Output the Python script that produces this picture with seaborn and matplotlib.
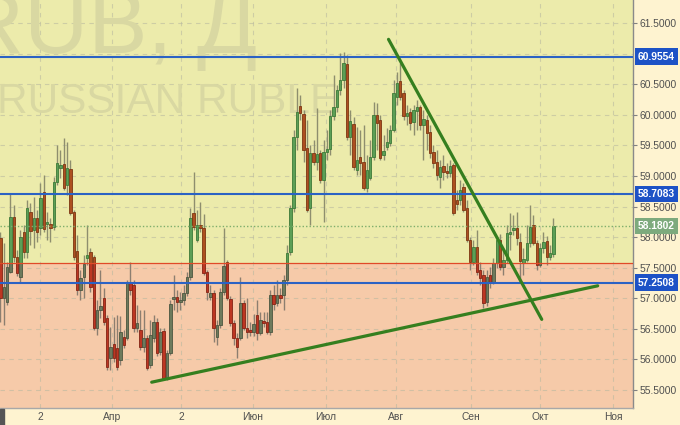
import numpy as np
import pandas as pd
import matplotlib
matplotlib.use("Agg")
import matplotlib.pyplot as plt
from matplotlib.patches import Rectangle
import seaborn as sns

# -----------------------------------------
# Data (USDRUB daily candles)
# -----------------------------------------
opens = [
    57.98, 57.00, 56.93, 57.43, 58.33, 57.67, 57.34, 58.08, 57.75, 58.41,
    58.11, 58.31, 58.15, 58.74, 58.21, 58.21, 58.16, 58.90, 59.13, 59.20,
    58.85, 59.11, 58.41, 57.77, 57.13, 57.34, 57.66, 57.75, 57.67, 56.51,
    56.80, 57.00, 56.67, 56.02, 56.25, 56.18, 55.98, 56.36, 56.34, 57.25,
    57.21, 56.51, 56.48, 56.20, 56.34, 55.90, 56.34, 56.61, 56.11, 56.46,
    55.69, 56.10, 56.98, 57.02, 56.93, 56.97, 57.08, 57.34, 58.39, 57.95,
    58.20, 58.15, 57.43, 57.02, 57.08, 56.36, 56.56, 57.10, 57.59, 56.98,
    56.59, 56.34, 56.34, 56.92, 56.51, 56.48, 56.44, 56.72, 56.43, 56.62,
    56.61, 56.44, 57.05, 56.92, 57.05, 57.05, 57.30, 57.75, 58.48, 59.64,
    60.15, 60.02, 59.46, 58.48, 59.38, 59.23, 59.38, 58.93, 59.39, 59.44,
    59.98, 60.13, 60.41, 60.57, 60.84, 59.64, 59.85, 59.10, 59.31, 59.23,
    58.80, 58.97, 59.31, 60.00, 59.92, 59.34, 59.48, 59.54, 59.75, 60.29,
    60.56, 60.36, 59.98, 60.05, 59.89, 60.07, 60.13, 59.84, 59.92, 59.72,
    59.39, 59.23, 58.98, 59.16, 59.08, 59.05, 59.18, 58.61, 58.61, 58.82,
    58.48, 57.95, 57.59, 57.84, 57.46, 57.38, 56.93, 57.38, 57.26, 57.57,
    57.95, 57.51, 57.62, 58.05, 58.11, 58.15, 57.92, 57.57, 57.62, 57.90,
    58.20, 57.90, 57.54, 57.82, 57.93, 57.67, 57.72,
]
highs = [
    58.08, 57.90, 57.59, 58.72, 58.52, 57.79, 58.11, 58.20, 58.61, 58.56,
    58.66, 58.44, 58.89, 59.02, 58.41, 58.31, 58.98, 59.51, 59.43, 59.62,
    59.56, 59.26, 58.44, 58.03, 57.46, 57.70, 58.20, 57.82, 57.70, 56.97,
    57.46, 57.16, 56.72, 56.52, 56.69, 56.72, 56.70, 56.48, 57.30, 57.59,
    57.30, 56.89, 56.80, 56.80, 56.39, 56.64, 56.72, 56.67, 56.51, 56.51,
    56.15, 56.97, 57.38, 57.13, 57.10, 57.21, 57.43, 58.48, 59.07, 58.44,
    58.57, 58.38, 57.46, 57.21, 57.13, 56.64, 57.16, 58.15, 57.62, 57.03,
    56.64, 56.43, 57.34, 56.97, 57.00, 56.61, 56.74, 56.97, 56.77, 56.77,
    56.77, 57.13, 57.21, 57.30, 57.16, 57.38, 57.87, 58.52, 59.75, 60.44,
    60.33, 60.08, 59.92, 59.51, 59.59, 60.11, 59.43, 59.59, 59.75, 60.08,
    60.66, 60.49, 61.02, 61.03, 60.98, 60.08, 59.97, 59.80, 59.75, 59.84,
    59.34, 59.59, 60.21, 60.20, 60.00, 59.67, 59.79, 59.84, 60.57, 60.70,
    60.85, 60.41, 60.16, 60.11, 60.16, 60.25, 60.16, 60.08, 60.00, 59.84,
    59.51, 59.43, 59.26, 59.34, 59.21, 59.26, 59.21, 58.77, 58.93, 58.89,
    58.61, 58.00, 57.95, 58.11, 57.59, 57.46, 57.46, 57.51, 57.66, 57.98,
    58.05, 57.79, 58.20, 58.39, 58.36, 58.41, 58.07, 57.82, 58.20, 58.52,
    58.36, 57.95, 57.90, 58.08, 58.02, 57.87, 58.31,
]
lows = [
    56.61, 56.56, 56.89, 57.41, 57.59, 57.36, 57.26, 57.66, 57.66, 57.87,
    57.82, 57.92, 58.03, 58.08, 57.95, 57.92, 58.11, 58.85, 58.97, 58.77,
    58.69, 58.36, 57.62, 57.05, 56.97, 57.00, 57.54, 57.10, 56.48, 56.39,
    56.67, 56.56, 55.82, 55.82, 55.95, 55.82, 55.90, 56.18, 56.31, 57.05,
    56.44, 56.44, 56.15, 56.11, 55.82, 55.85, 56.28, 56.05, 56.07, 55.66,
    55.66, 56.07, 56.80, 56.77, 56.80, 56.89, 57.03, 57.30, 58.11, 57.92,
    58.08, 57.38, 56.97, 56.97, 56.28, 56.23, 56.51, 57.05, 56.97, 56.54,
    56.23, 56.02, 56.31, 56.48, 56.34, 56.38, 56.38, 56.31, 56.39, 56.52,
    56.41, 56.39, 56.80, 56.87, 56.92, 56.80, 57.21, 57.70, 58.41, 59.43,
    59.92, 59.23, 58.41, 58.20, 59.18, 59.10, 58.89, 58.25, 59.26, 59.34,
    59.92, 60.05, 60.33, 60.44, 59.59, 59.34, 59.10, 59.02, 59.02, 58.77,
    58.74, 58.93, 59.26, 59.43, 59.26, 59.26, 59.43, 59.49, 59.72, 60.16,
    60.25, 59.92, 59.84, 59.75, 59.67, 59.75, 59.75, 59.26, 59.43, 59.30,
    59.13, 58.93, 58.80, 58.93, 58.97, 58.98, 58.36, 58.44, 58.52, 58.41,
    57.92, 57.46, 57.54, 57.38, 57.21, 56.84, 56.87, 57.16, 57.23, 57.49,
    57.46, 57.38, 57.57, 57.79, 58.03, 57.87, 57.26, 57.38, 57.59, 57.84,
    57.87, 57.46, 57.51, 57.74, 57.54, 57.62, 57.67,
]
closes = [
    57.00, 57.18, 57.51, 58.33, 57.67, 57.41, 58.00, 57.75, 58.48, 58.10,
    58.31, 58.08, 58.64, 58.13, 58.25, 58.15, 58.90, 59.21, 59.18, 58.80,
    59.13, 58.39, 57.67, 57.13, 57.33, 57.56, 57.70, 57.18, 56.51, 56.80,
    56.87, 56.61, 55.87, 56.20, 56.02, 55.87, 56.44, 56.23, 57.25, 57.13,
    56.51, 56.59, 56.20, 56.34, 55.85, 56.39, 56.61, 56.10, 56.44, 55.69,
    56.10, 56.90, 57.02, 56.93, 56.97, 57.08, 57.34, 58.31, 58.16, 58.20,
    58.15, 57.41, 57.10, 57.08, 56.51, 56.56, 57.10, 57.52, 57.00, 56.59,
    56.34, 56.20, 56.92, 56.51, 56.44, 56.44, 56.57, 56.43, 56.64, 56.59,
    56.44, 57.05, 56.90, 57.05, 57.00, 57.30, 57.74, 58.48, 59.64, 60.05,
    60.03, 59.43, 58.44, 59.38, 59.23, 59.36, 58.93, 59.39, 59.44, 59.98,
    60.13, 60.41, 60.57, 60.85, 59.64, 59.90, 59.15, 59.26, 59.21, 58.80,
    59.10, 59.31, 60.00, 59.87, 59.30, 59.41, 59.56, 59.75, 60.36, 60.52,
    60.29, 59.98, 60.03, 59.87, 60.08, 60.13, 59.84, 59.93, 59.70, 59.38,
    59.21, 59.02, 59.15, 59.07, 59.05, 59.16, 58.39, 58.54, 58.77, 58.44,
    57.95, 57.59, 57.84, 57.43, 57.33, 56.92, 57.34, 57.25, 57.57, 57.95,
    57.51, 57.62, 58.07, 58.08, 58.15, 57.98, 57.61, 57.64, 57.90, 58.16,
    57.90, 57.54, 57.82, 57.92, 57.67, 57.74, 58.18,
]

# month labels on the time axis
month_labels = ["2", "Апр", "2", "Июн", "Июл", "Авг", "Сен", "Окт", "Ноя"]
month_pos = [11.9, 33.5, 54.2, 75.8, 97.7, 118.8, 141.3, 162.0, 183.9]

# horizontal levels
blue_levels = [60.9554, 58.7083, 57.2508]
zone_level = 57.58
last_price = 58.1802

# hand drawn trend lines (bar index, price)
trend_down_x = [116.5, 162.5]
trend_down_y = [61.24, 56.65]
trend_up_x = [45.4, 179.3]
trend_up_y = [55.62, 57.20]

df = pd.DataFrame({"open": opens, "high": highs, "low": lows, "close": closes})

# -----------------------------------------
# Style
# -----------------------------------------
sns.set_theme(style="white")
plt.rcParams["font.family"] = ["Liberation Sans", "DejaVu Sans"]

YMIN, YMAX = 55.197, 61.885
XMIN, XMAX = -0.15, 189.9

fig = plt.figure(figsize=(6.8, 4.25), dpi=100, facecolor="#fef3d0")
ax = fig.add_axes([0, 17 / 425, 633 / 680, 408 / 425])
ax.set_xlim(XMIN, XMAX)
ax.set_ylim(YMIN, YMAX)

# background zones
ax.axhspan(zone_level, YMAX, color="#ecebab", zorder=0, lw=0)
ax.axhspan(YMIN, zone_level, color="#f6caa9", zorder=0, lw=0)

# grid
for yv in np.arange(55.5, 61.6, 0.5):
    ax.axhline(yv, color="#b9b9a0", lw=0.8, ls=(0, (4, 4)), alpha=0.6, zorder=1)
for xv in month_pos:
    ax.axvline(xv, color="#b9b9a0", lw=0.8, ls=(0, (4, 4)), alpha=0.6, zorder=1)

# watermark (clipped by the plot edges, as in the terminal)
ax.text(257 / 633, 1 - 53 / 408, "RUB, Д", transform=ax.transAxes, ha="right",
        va="baseline", fontsize=64, color="#d9d8a2", zorder=1.5, clip_on=True)
ax.text(338 / 633, 1 - 113 / 408, "RUSSIAN RUBLE", transform=ax.transAxes,
        ha="right", va="baseline", fontsize=30.5, color="#d9d8a2", zorder=1.5,
        clip_on=True)


# -----------------------------------------
# Candles (colours shift with the background zone)
# -----------------------------------------
def draw_candles(clip, up_col, up_edge, dn_col, dn_edge, wick_col):
    rising = df["close"] >= df["open"]
    body_lo = np.minimum(df["open"], df["close"])
    body_h = np.maximum((df["close"] - df["open"]).abs(), 0.02)
    wicks = ax.vlines(df.index, df["low"], df["high"], color=wick_col,
                      lw=1.0, zorder=3)
    wicks.set_clip_path(clip)
    bars = ax.bar(df.index, body_h, bottom=body_lo, width=0.74,
                  color=np.where(rising, up_col, dn_col),
                  edgecolor=np.where(rising, up_edge, dn_edge),
                  linewidth=0.6, zorder=4)
    for p in bars:
        p.set_clip_path(clip)


upper_clip = Rectangle((XMIN, zone_level), XMAX - XMIN, YMAX - zone_level,
                       transform=ax.transData)
lower_clip = Rectangle((XMIN, YMIN), XMAX - XMIN, zone_level - YMIN,
                       transform=ax.transData)
draw_candles(upper_clip, "#5c9f56", "#3d7a38", "#ad5020", "#7d3612", "#8e8e6e")
draw_candles(lower_clip, "#6d7a5c", "#4c5640", "#bd3622", "#842414", "#8c7e70")

# levels
for lv in blue_levels:
    ax.axhline(lv, color="#2b62c4", lw=1.5, zorder=5)
ax.axhline(zone_level, color="#e04a28", lw=0.9, zorder=5)
ax.axhline(last_price, color="#7fae6c", lw=1.0, ls=(0, (1, 1.5)), zorder=5)

# trend lines
sns.lineplot(x=trend_down_x, y=trend_down_y, ax=ax, color="#357f1f", lw=2.3,
             sort=False, zorder=6)
sns.lineplot(x=trend_up_x, y=trend_up_y, ax=ax, color="#357f1f", lw=2.3,
             sort=False, zorder=6)

# -----------------------------------------
# Axes
# -----------------------------------------
for side in ["left", "top"]:
    ax.spines[side].set_visible(False)
ax.spines["right"].set_color("#8a8a8a")
ax.spines["bottom"].set_color("#a8a8a8")
ax.spines["right"].set_linewidth(1.0)
ax.spines["bottom"].set_linewidth(1.0)

yticks = [v for v in np.arange(55.5, 61.6, 0.5) if abs(v - 61.0) > 0.01]
ax.yaxis.tick_right()
ax.set_yticks(yticks)
ax.set_yticklabels([f"{v:.4f}" for v in yticks])
ax.tick_params(axis="y", direction="out", length=3, width=0.8,
               color="#808080", labelsize=7.4, labelcolor="#505050", pad=2)
ax.set_xticks(month_pos)
ax.set_xticklabels(month_labels)
ax.tick_params(axis="x", length=0, labelsize=7.4, labelcolor="#505050", pad=3)
ax.set_xlabel("")
ax.set_ylabel("")

# price tags on the right
for lv in blue_levels:
    ax.text(1 + 5 / 633, lv, f"{lv:.4f}", transform=ax.get_yaxis_transform(),
            ha="left", va="center", fontsize=7.4, fontweight="bold",
            color="white", zorder=10, clip_on=False,
            bbox=dict(boxstyle="square,pad=0.32", fc="#1d52c6", ec="none"))
ax.text(1 + 5 / 633, last_price, f"{last_price:.4f}",
        transform=ax.get_yaxis_transform(), ha="left", va="center",
        fontsize=7.4, fontweight="bold", color="white", zorder=10,
        clip_on=False,
        bbox=dict(boxstyle="square,pad=0.32", fc="#7daa7d", ec="none"))

# small dark block at the bottom-left corner
fig.patches.append(Rectangle((0, 0), 4 / 680, 16 / 425, transform=fig.transFigure,
                             color="#555555", zorder=10))

fig.savefig("out.png", dpi=100, facecolor=fig.get_facecolor())
